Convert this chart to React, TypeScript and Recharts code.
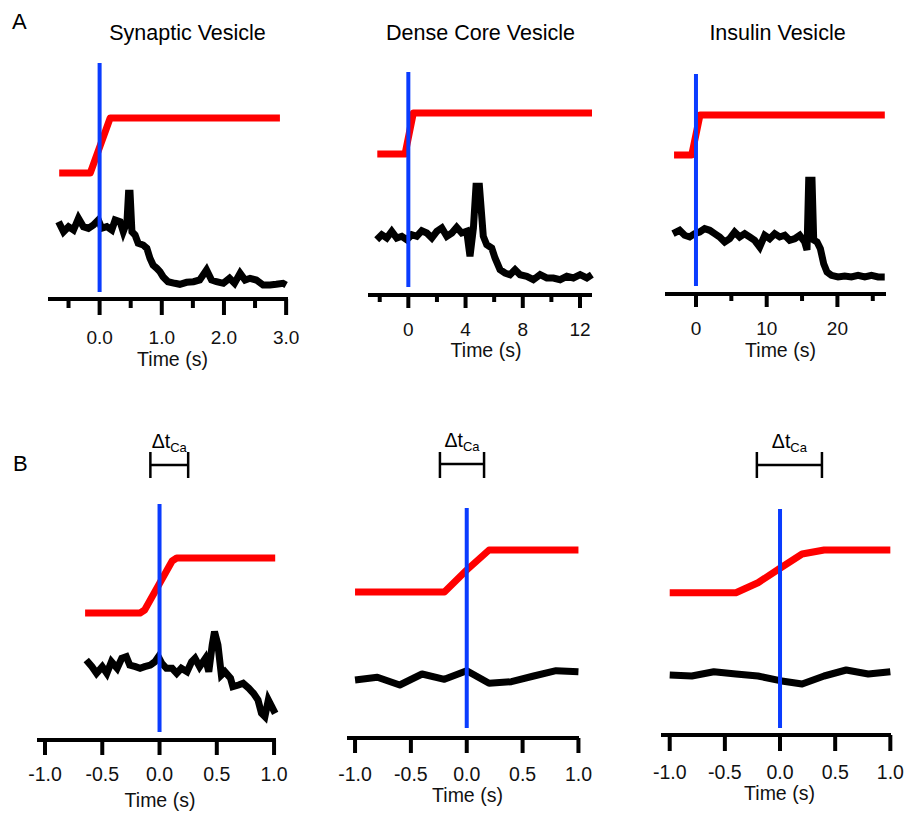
import React from 'react';
import { LineChart, Line, XAxis, YAxis, ReferenceLine } from 'recharts';

const FONT = '"Liberation Sans", Arial, Helvetica, sans-serif';

// ---------- Panel A: whole-event traces (t in s, value in a.u.) ----------
const synapticCa: [number, number][] = [[-0.65, 126], [-0.15, 126], [0.17, 181], [2.9, 181]];
const synapticDye: [number, number][] = [
  [-0.66, 77.3], [-0.58, 67.3], [-0.5, 72.3], [-0.42, 69], [-0.34, 80.7], [-0.26, 72.3], [-0.18, 70.7],
  [-0.1, 74], [-0.02, 79], [0.035, 70.7], [0.115, 72.3], [0.195, 69], [0.25, 79], [0.33, 77.3],
  [0.38, 67.3], [0.44, 77.3], [0.465, 105.7], [0.49, 105.7], [0.52, 67.3], [0.57, 64], [0.62, 55.7],
  [0.7, 54], [0.76, 50.7], [0.81, 40.7], [0.86, 34], [0.92, 30.7], [0.97, 27.3], [1.02, 22.3],
  [1.1, 17.3], [1.21, 15.7], [1.29, 14.7], [1.4, 16.7], [1.51, 17.3], [1.61, 19], [1.72, 29],
  [1.8, 19], [1.88, 17.3], [1.99, 15.7], [2.09, 20.7], [2.17, 15.7], [2.26, 25.7], [2.34, 19],
  [2.42, 20.7], [2.52, 19], [2.63, 14], [2.74, 14], [2.84, 14.7], [2.95, 15.7], [3.0, 14],
];
const synapticStim: [number, number][] = [[0, 7], [0, 236]];

const denseCa: [number, number][] = [[-2.17, 141], [-0.23, 141], [0.35, 182], [12.84, 182]];
const denseDye: [number, number][] = [
  [-2.21, 55.3], [-1.86, 60.3], [-1.51, 57], [-1.16, 63.7], [-0.81, 57], [-0.46, 58.7], [-0.11, 55.3],
  [0.24, 60.3], [0.59, 58.7], [0.94, 64.3], [1.29, 62], [1.64, 57], [1.99, 63.7], [2.34, 67],
  [2.69, 58.7], [3.04, 62], [3.38, 67.7], [3.73, 62], [4.08, 63.7], [4.31, 38.7], [4.55, 67],
  [4.73, 108.7], [4.97, 108.7], [5.24, 58.7], [5.48, 50.3], [5.83, 47], [6.06, 37], [6.41, 25.3],
  [6.76, 22], [7.11, 20.3], [7.46, 25.3], [7.81, 20.3], [8.28, 18.7], [8.74, 15.3], [9.21, 20.3],
  [9.68, 17], [10.14, 17], [10.61, 15.3], [11.08, 18.7], [11.54, 17], [12.01, 20.3], [12.48, 17],
  [12.83, 20.3],
];
const denseStim: [number, number][] = [[0, 8], [0, 223]];

const insulinCa: [number, number][] = [[-3.1, 139], [-0.6, 139], [0.57, 179], [26.7, 179]];
const insulinDye: [number, number][] = [
  [-3.25, 60.3], [-2.31, 63.7], [-1.6, 58.7], [-0.89, 57], [-0.18, 60.3], [0.52, 62], [1.23, 65.3],
  [1.94, 63.7], [2.64, 60.3], [3.35, 57], [4.06, 52], [4.77, 55.3], [5.47, 62], [6.18, 57],
  [6.89, 60.3], [7.6, 57], [8.3, 53.7], [9.01, 47], [9.72, 58.7], [10.42, 55.3], [11.13, 60.3],
  [11.84, 57], [12.55, 58.7], [13.25, 53.7], [13.96, 55.3], [14.67, 58.7], [15.37, 52], [15.7, 44],
  [15.94, 113.7], [16.41, 113.7], [16.65, 54], [17.12, 52], [17.59, 45.3], [18.06, 30.3],
  [18.53, 22], [19.15, 18.7], [20.09, 17], [21.03, 18], [21.98, 17], [22.92, 18.7], [23.87, 17],
  [24.81, 18.7], [25.75, 17], [26.69, 17],
];
const insulinStim: [number, number][] = [[0, 8], [0, 220]];

// ---------- Panel B: zoom around the Ca2+ rise ----------
const synZoomCa: [number, number][] = [[-0.65, 127], [-0.17, 127], [-0.13, 130], [0.11, 179], [0.15, 182], [1.01, 182]];
const synZoomDye: [number, number][] = [
  [-0.64, 80], [-0.59, 73.3], [-0.55, 66.7], [-0.5, 73.3], [-0.46, 66.7], [-0.42, 78.3], [-0.37, 71.7],
  [-0.33, 81.7], [-0.29, 83.3], [-0.26, 75], [-0.21, 73.3], [-0.17, 71.7], [-0.13, 73.3], [-0.08, 75],
  [-0.04, 78.3], [-0.01, 83.3], [0.02, 76.7], [0.06, 71.7], [0.11, 71.7], [0.15, 66.7], [0.19, 71.7],
  [0.24, 68.3], [0.28, 78.3], [0.31, 81.7], [0.35, 73.3], [0.4, 81.7], [0.43, 68.3], [0.46, 95],
  [0.48, 108.3], [0.51, 95], [0.54, 65], [0.57, 68.3], [0.62, 61.7], [0.64, 53.3], [0.69, 55],
  [0.73, 56.7], [0.78, 51.7], [0.82, 46.7], [0.86, 40], [0.89, 26.7], [0.92, 23.3], [0.95, 40],
  [0.98, 33.3], [1.01, 26.7],
];
const synZoomStim: [number, number][] = [[0, 8], [0, 236]];
const synDtCa: [number, number] = [-0.08, 0.25];

const denseZoomCa: [number, number][] = [
  [-1, 146], [-0.8, 146], [-0.6, 146], [-0.4, 146], [-0.2, 146], [0, 168], [0.2, 188], [0.4, 188],
  [0.6, 188], [0.8, 188], [1, 188],
];
const denseZoomDye: [number, number][] = [
  [-1, 58], [-0.8, 60.7], [-0.6, 53], [-0.4, 64], [-0.2, 58.7], [0, 67.3], [0.2, 54.7], [0.4, 56.3],
  [0.6, 62], [0.8, 67.3], [1, 66.3],
];
const denseZoomStim: [number, number][] = [[0, 10], [0, 230]];
const denseDtCa: [number, number] = [-0.24, 0.155];

const insulinZoomCa: [number, number][] = [
  [-1, 142.3], [-0.8, 142.3], [-0.6, 142.3], [-0.4, 142.3], [-0.2, 152.3], [0, 166.7], [0.2, 181],
  [0.4, 185], [0.6, 185], [0.8, 185], [1, 185],
];
const insulinZoomDye: [number, number][] = [
  [-1, 60], [-0.8, 59], [-0.6, 63.3], [-0.4, 61], [-0.2, 59], [0, 54.3], [0.2, 51], [0.4, 59],
  [0.6, 65], [0.8, 61], [1, 63.3],
];
const insulinZoomStim: [number, number][] = [[0, 7], [0, 226]];
const insulinDtCa: [number, number] = [-0.21, 0.38];

// ---------- ticks ----------
const synMajor = [0, 1, 2, 3];
const synMinor = [-0.5, 0.5, 1.5, 2.5];
const synLabels = ['0.0', '1.0', '2.0', '3.0'];
const denseMajor = [0, 4, 8, 12];
const denseMinor = [-2, 2, 6, 10];
const denseLabels = ['0', '4', '8', '12'];
const insulinMajor = [0, 10, 20];
const insulinMinor = [5, 15, 25];
const insulinLabels = ['0', '10', '20'];
const zoomMajor = [-1, -0.5, 0, 0.5, 1];
const zoomLabels = ['-1.0', '-0.5', '0.0', '0.5', '1.0'];

const titles = ['Synaptic Vesicle', 'Dense Core Vesicle', 'Insulin Vesicle'];

const toPts = (arr: [number, number][]) => arr.map(([t, v]) => ({ t, v }));

const ML = 30, MR = 30, MT = 10, AXH = 50;
const RED = '#ff0000';
const BLUE = '#0a3cff';

type PanelProps = {
  left: number; top: number; width: number; height: number;
  domain: [number, number];
  major: number[]; minor: number[]; labels: string[];
  majorLen: number; minorLen: number; labelCap: number; labelSize: number;
  ca: [number, number][]; dye: [number, number][]; stim: [number, number][];
  dyeWidth: number; join: 'round' | 'miter';
  dt?: [number, number]; dtY?: [number, number, number];
  timeX: number; timeCapTop: number;
};

function Panel(p: PanelProps) {
  const W = p.width + ML + MR;
  const H = p.height + MT + AXH;
  const renderTick = (props: any) => {
    const { x, y, payload } = props;
    const v = payload.value;
    const idx = p.major.findIndex((m) => Math.abs(m - v) < 1e-9);
    const isMajor = idx >= 0;
    return (
      <g>
        <line x1={x} x2={x} y1={y} y2={y + (isMajor ? p.majorLen : p.minorLen)} stroke="#000" strokeWidth={4} />
        {isMajor && (
          <text x={x} y={y + p.labelCap + 0.716 * p.labelSize} textAnchor="middle"
            fontSize={p.labelSize} fontFamily={FONT} fill="#111">{p.labels[idx]}</text>
        )}
      </g>
    );
  };
  const renderDt = (props: any) => {
    const vb = props.viewBox || {};
    const cx = (vb.x || 0) + (vb.width || 0) / 2;
    const y = vb.y || 0;
    return (
      <text x={cx} y={y - 17} textAnchor="middle" fontFamily={FONT} fontSize={19.5} fill="#000">
        Δt<tspan fontSize={13} dy={4}>Ca</tspan>
      </text>
    );
  };
  const ticks = [...p.major, ...p.minor].sort((a, b) => a - b);
  return (
    <>
      <div style={{ position: 'absolute', left: p.left - ML, top: p.top - MT }}>
        <LineChart width={W} height={H} margin={{ top: MT, right: MR, bottom: 0, left: ML }}>
          <XAxis type="number" dataKey="t" domain={p.domain} ticks={ticks} interval={0}
            tick={renderTick} tickLine={false} tickSize={0} tickMargin={0} height={AXH}
            axisLine={{ stroke: '#000', strokeWidth: 4 }} />
          <YAxis type="number" hide domain={[0, p.height]} />
          <Line data={toPts(p.ca)} dataKey="v" type="linear" stroke={RED} strokeWidth={7} dot={false}
            isAnimationActive={false} strokeLinejoin="round" />
          <Line data={toPts(p.dye)} dataKey="v" type="linear" stroke="#000" strokeWidth={p.dyeWidth} dot={false}
            isAnimationActive={false} strokeLinejoin={p.join} />
          <Line data={toPts(p.stim)} dataKey="v" type="linear" stroke={BLUE} strokeWidth={4} dot={false}
            isAnimationActive={false} />
          {p.dt && p.dtY && (
            <ReferenceLine segment={[{ x: p.dt[0], y: p.dtY[1] }, { x: p.dt[1], y: p.dtY[1] }]}
              stroke="#000" strokeWidth={2.5} ifOverflow="visible" label={renderDt} />
          )}
          {p.dt && p.dtY && (
            <ReferenceLine segment={[{ x: p.dt[0], y: p.dtY[0] }, { x: p.dt[0], y: p.dtY[2] }]}
              stroke="#000" strokeWidth={2.5} ifOverflow="visible" />
          )}
          {p.dt && p.dtY && (
            <ReferenceLine segment={[{ x: p.dt[1], y: p.dtY[0] }, { x: p.dt[1], y: p.dtY[2] }]}
              stroke="#000" strokeWidth={2.5} ifOverflow="visible" />
          )}
        </LineChart>
      </div>
      <div style={{
        position: 'absolute', left: p.timeX - 100, width: 200, textAlign: 'center',
        top: p.timeCapTop - 0.13 * 19.5, fontSize: 19.5, lineHeight: '19.5px', fontFamily: FONT, color: '#111',
      }}>Time (s)</div>
    </>
  );
}

const textStyle = (fs: number): React.CSSProperties => ({
  position: 'absolute', fontFamily: FONT, fontSize: fs, lineHeight: `${fs}px`, color: '#000', whiteSpace: 'nowrap',
});

export default function App() {
  return (
    <div style={{ position: 'absolute', left: 0, top: 0, width: 909, height: 815, background: '#fff', overflow: 'hidden' }}>
      <div style={{ ...textStyle(22), left: 12, top: 29.3 - 0.8465 * 22 }}>A</div>
      <div style={{ ...textStyle(22), left: 13, top: 472 - 0.8465 * 22 }}>B</div>
      {[187.5, 480.5, 777.5].map((cx, i) => (
        <div key={i} style={{ ...textStyle(21.5), left: cx - 150, width: 300, textAlign: 'center', top: 40.7 - 0.8465 * 21.5 }}>
          {titles[i]}
        </div>
      ))}

      <Panel left={48} top={59} width={240} height={240} domain={[-0.83, 3.03]}
        major={synMajor} minor={synMinor} labels={synLabels} majorLen={16} minorLen={9} labelCap={31} labelSize={19}
        ca={synapticCa} dye={synapticDye} stim={synapticStim} dyeWidth={7} join="miter"
        timeX={172.5} timeCapTop={352.7} />
      <Panel left={368} top={65} width={224} height={230} domain={[-2.82, 12.84]}
        major={denseMajor} minor={denseMinor} labels={denseLabels} majorLen={13} minorLen={7} labelCap={27.7} labelSize={19}
        ca={denseCa} dye={denseDye} stim={denseStim} dyeWidth={7} join="miter"
        timeX={486} timeCapTop={343.3} />
      <Panel left={665} top={68} width={221} height={226} domain={[-4.38, 26.87]}
        major={insulinMajor} minor={insulinMinor} labels={insulinLabels} majorLen={13} minorLen={7} labelCap={27.7} labelSize={19}
        ca={insulinCa} dye={insulinDye} stim={insulinStim} dyeWidth={7} join="miter"
        timeX={780.5} timeCapTop={343.3} />

      <Panel left={37} top={440} width={239} height={300} domain={[-1.07, 1.017]}
        major={zoomMajor} minor={[]} labels={zoomLabels} majorLen={15} minorLen={0} labelCap={27.3} labelSize={19.5}
        ca={synZoomCa} dye={synZoomDye} stim={synZoomStim} dyeWidth={7} join="miter"
        dt={synDtCa} dtY={[262, 275, 288]} timeX={160} timeCapTop={793.3} />
      <Panel left={347} top={440} width={232} height={298} domain={[-1.072, 1.005]}
        major={zoomMajor} minor={[]} labels={zoomLabels} majorLen={15} minorLen={0} labelCap={28.7} labelSize={19.5}
        ca={denseZoomCa} dye={denseZoomDye} stim={denseZoomStim} dyeWidth={7} join="round"
        dt={denseDtCa} dtY={[260, 274, 286]} timeX={467.5} timeCapTop={788.3} />
      <Panel left={661} top={440} width={230} height={295} domain={[-1.079, 1.006]}
        major={zoomMajor} minor={[]} labels={zoomLabels} majorLen={16} minorLen={0} labelCap={30} labelSize={19.5}
        ca={insulinZoomCa} dye={insulinZoomDye} stim={insulinZoomStim} dyeWidth={7} join="round"
        dt={insulinDtCa} dtY={[257, 270, 283]} timeX={779.5} timeCapTop={786.7} />
    </div>
  );
}
